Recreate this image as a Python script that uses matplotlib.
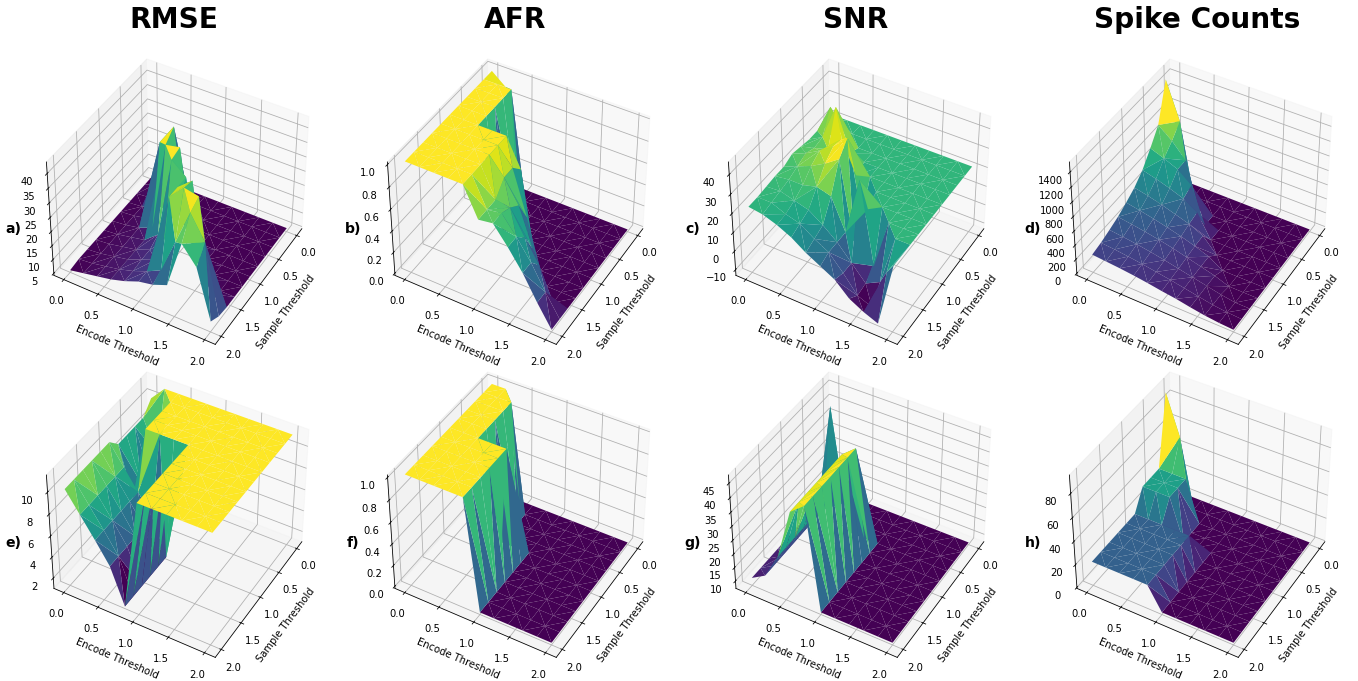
import numpy as np
import matplotlib
matplotlib.use('Agg')
import matplotlib.pyplot as plt

thresholds = [0.0, 0.2, 0.4, 0.6, 0.8, 1.0, 1.2, 1.4, 1.6, 1.8, 2.0]
titles = ['RMSE', 'AFR', 'SNR', 'Spike Counts']
letters = ['a)', 'b)', 'c)', 'd)', 'e)', 'f)', 'g)', 'h)']

# rows are sample threshold, columns are encode threshold
rmse_top = [
    [5.5, 5.5, 5.5, 5.5, 5.5, 5.5, 5.5, 5.5, 5.5, 5.5, 5.5],
    [5.5, 8, 5.5, 5.5, 5.5, 5.5, 5.5, 5.5, 5.5, 5.5, 5.5],
    [5.5, 6, 22, 5.5, 5.5, 5.5, 5.5, 5.5, 5.5, 5.5, 5.5],
    [5.5, 6, 8, 24, 5.5, 5.5, 5.5, 5.5, 5.5, 5.5, 5.5],
    [5.5, 6, 7, 36, 43, 6, 5.5, 5.5, 5.5, 5.5, 5.5],
    [5.5, 6, 7, 9, 40, 41, 8, 5.5, 5.5, 5.5, 5.5],
    [5.5, 6, 7, 8, 12, 40, 36, 6, 5.5, 5.5, 5.5],
    [5.5, 6, 7, 8, 10, 15, 36, 40, 7, 5.5, 5.5],
    [5.5, 6, 7, 8, 10, 12, 36, 41, 40, 8, 5.5],
    [5.5, 6, 7, 8, 9.5, 11.5, 14, 26, 38, 30, 6],
    [5, 6, 7, 8, 9.5, 11.5, 12.5, 14.5, 31, 25, 8],
]
afr_top = [
    [1, 0.9, 0, 0, 0, 0, 0, 0, 0, 0, 0],
    [1, 1, 1, 0, 0, 0, 0, 0, 0, 0, 0],
    [1, 1, 1, 0, 0, 0, 0, 0, 0, 0, 0],
    [1, 1, 1, 0, 0, 0, 0, 0, 0, 0, 0],
    [1, 1, 1, 0, 0, 0, 0, 0, 0, 0, 0],
    [1, 1, 1, 1, 1, 0.75, 0, 0, 0, 0, 0],
    [1, 1, 1, 1, 1, 0.85, 0.45, 0, 0, 0, 0],
    [1, 1, 1, 1, 1, 0.85, 0.65, 0.3, 0, 0, 0],
    [1, 1, 1, 1, 1, 0.74, 0.72, 0.5, 0.3, 0, 0],
    [1, 1, 1, 1, 1, 0.74, 0.76, 0.6, 0.42, 0.2, 0],
    [1, 1, 1, 1, 1, 0.74, 0.76, 0.6, 0.42, 0.2, 0],
]
snr_top = [
    [22, 22, 22, 22, 22, 22, 22, 22, 22, 22, 22],
    [23, 26, 22, 22, 22, 22, 22, 22, 22, 22, 22],
    [23, 38, 28, 22, 22, 22, 22, 22, 22, 22, 22],
    [23, 27, 45, 24, 22, 22, 22, 22, 22, 22, 22],
    [24, 26, 28, 36, 20, 22, 22, 22, 22, 22, 22],
    [25, 28, 32, 37, 44, 6, 22, 22, 22, 22, 22],
    [23, 26, 29, 33, 38, -2, 18, 22, 22, 22, 22],
    [23, 24, 24, 26, 24, 8, 38, -4, 22, 22, 22],
    [22.5, 23, 21, 19, 14, 8, 0, -8, -4, 22, 22],
    [22, 22, 19, 17, 12, 8, 0, -9, -12, 10, 22],
    [22, 21, 18.5, 15, 10, 6, 2, -5, -9, -12, 22],
]
spikes_top = [
    [900, 0, 0, 0, 0, 0, 0, 0, 0, 0, 0],
    [1500, 1000, 0, 0, 0, 0, 0, 0, 0, 0, 0],
    [1000, 850, 650, 0, 0, 0, 0, 0, 0, 0, 0],
    [800, 730, 650, 500, 0, 0, 0, 0, 0, 0, 0],
    [620, 570, 510, 440, 320, 0, 0, 0, 0, 0, 0],
    [500, 460, 410, 350, 290, 200, 0, 0, 0, 0, 0],
    [420, 385, 345, 300, 250, 190, 120, 0, 0, 0, 0],
    [350, 325, 295, 260, 220, 170, 120, 70, 0, 0, 0],
    [300, 280, 255, 225, 190, 150, 110, 70, 30, 0, 0],
    [255, 240, 220, 195, 165, 135, 100, 65, 30, 10, 0],
    [225, 210, 195, 175, 150, 120, 95, 60, 30, 10, 0],
]
rmse_bottom = [
    [10, 11.3, 11.3, 11.3, 11.3, 11.3, 11.3, 11.3, 11.3, 11.3, 11.3],
    [9, 6, 11.3, 11.3, 11.3, 11.3, 11.3, 11.3, 11.3, 11.3, 11.3],
    [9, 5, 11.3, 11.3, 11.3, 11.3, 11.3, 11.3, 11.3, 11.3, 11.3],
    [9, 5, 11.3, 11.3, 11.3, 11.3, 11.3, 11.3, 11.3, 11.3, 11.3],
    [9, 4.5, 11.3, 11.3, 11.3, 11.3, 11.3, 11.3, 11.3, 11.3, 11.3],
    [10, 8.2, 6.4, 4.5, 1.2, 11.3, 11.3, 11.3, 11.3, 11.3, 11.3],
    [10, 8.2, 6.4, 4.5, 1.2, 11.3, 11.3, 11.3, 11.3, 11.3, 11.3],
    [10, 8.2, 6.4, 4.5, 1.2, 11.3, 11.3, 11.3, 11.3, 11.3, 11.3],
    [10, 8.2, 6.4, 4.5, 1.2, 11.3, 11.3, 11.3, 11.3, 11.3, 11.3],
    [10, 8.2, 6.4, 4.5, 1.2, 11.3, 11.3, 11.3, 11.3, 11.3, 11.3],
    [10, 8.2, 6.4, 4.5, 1.2, 11.3, 11.3, 11.3, 11.3, 11.3, 11.3],
]
afr_bottom = [
    [1, 1, 0, 0, 0, 0, 0, 0, 0, 0, 0],
    [1, 1, 1, 0, 0, 0, 0, 0, 0, 0, 0],
    [1, 1, 1, 0, 0, 0, 0, 0, 0, 0, 0],
    [1, 1, 1, 0, 0, 0, 0, 0, 0, 0, 0],
    [1, 1, 1, 0, 0, 0, 0, 0, 0, 0, 0],
    [1, 1, 1, 1, 1, 0, 0, 0, 0, 0, 0],
    [1, 1, 1, 1, 1, 0, 0, 0, 0, 0, 0],
    [1, 1, 1, 1, 1, 0, 0, 0, 0, 0, 0],
    [1, 1, 1, 1, 1, 0, 0, 0, 0, 0, 0],
    [1, 1, 1, 1, 1, 0, 0, 0, 0, 0, 0],
    [1, 1, 1, 1, 1, 0, 0, 0, 0, 0, 0],
]
snr_bottom = [
    [10, 8, 8, 8, 8, 8, 8, 8, 8, 8, 8],
    [10, 14, 8, 8, 8, 8, 8, 8, 8, 8, 8],
    [10, 47, 14, 8, 8, 8, 8, 8, 8, 8, 8],
    [10, 13, 30, 8, 8, 8, 8, 8, 8, 8, 8],
    [10, 13, 22, 40, 44, 8, 8, 8, 8, 8, 8],
    [10, 13, 22, 40, 44, 8, 8, 8, 8, 8, 8],
    [10, 13, 22, 40, 44, 8, 8, 8, 8, 8, 8],
    [10, 13, 22, 40, 44, 8, 8, 8, 8, 8, 8],
    [10, 13, 22, 40, 44, 8, 8, 8, 8, 8, 8],
    [10, 13, 22, 40, 44, 8, 8, 8, 8, 8, 8],
    [10, 13, 22, 40, 44, 8, 8, 8, 8, 8, 8],
]
spikes_bottom = [
    [50, 1, 1, 1, 1, 1, 1, 1, 1, 1, 1],
    [93, 60, 1, 1, 1, 1, 1, 1, 1, 1, 1],
    [36, 36, 36, 1, 1, 1, 1, 1, 1, 1, 1],
    [36, 36, 36, 1, 1, 1, 1, 1, 1, 1, 1],
    [36, 36, 36, 1, 1, 1, 1, 1, 1, 1, 1],
    [20, 20, 20, 20, 20, 1, 1, 1, 1, 1, 1],
    [20, 20, 20, 20, 20, 1, 1, 1, 1, 1, 1],
    [20, 20, 20, 20, 20, 1, 1, 1, 1, 1, 1],
    [20, 20, 20, 20, 20, 1, 1, 1, 1, 1, 1],
    [20, 20, 20, 20, 20, 1, 1, 1, 1, 1, 1],
    [20, 20, 20, 20, 20, 1, 1, 1, 1, 1, 1],
]
surfaces = [rmse_top, afr_top, snr_top, spikes_top,
            rmse_bottom, afr_bottom, snr_bottom, spikes_bottom]

W, H = 1358, 681
fig = plt.figure(figsize=(W / 72, H / 72), dpi=72)
sample, encode = np.meshgrid(thresholds, thresholds, indexing='ij')

for i, z in enumerate(surfaces):
    # panel size in pixels
    w, h = 290, 305
    cx = 176 + 341 * (i % 4)
    cy = 201 + 313 * (i // 4)
    ax = fig.add_axes([(cx - w / 2) / W, 1 - (cy + h / 2) / H, w / W, h / H],
                      projection='3d')
    # the box is a bit taller than wide here, so stop 3d from forcing it square
    ax.apply_aspect = lambda position=None: None
    ax.set_facecolor('none')  # lower row must not cover the tick labels above it
    ax.plot_trisurf(sample.ravel(), encode.ravel(), np.array(z, dtype=float).ravel(),
                    cmap='viridis', linewidth=0.2)
    ax.view_init(elev=40, azim=30)
    ax.set_xlabel('Sample Threshold')
    ax.set_ylabel('Encode Threshold')
    ax.set_xticks([0, 0.5, 1.0, 1.5, 2.0])
    ax.set_yticks([0, 0.5, 1.0, 1.5, 2.0])

for col, title in enumerate(titles):
    fig.text((174 + 341 * col) / W, 1 - 20 / H, title, fontsize=28,
             fontweight='bold', ha='center', va='center')
for i, letter in enumerate(letters):
    fig.text((13 + 340 * (i % 4)) / W, 1 - (229 + 314 * (i // 4)) / H, letter,
             fontsize=14, fontweight='bold', ha='center', va='center')

fig.savefig('out.png', dpi=72)
